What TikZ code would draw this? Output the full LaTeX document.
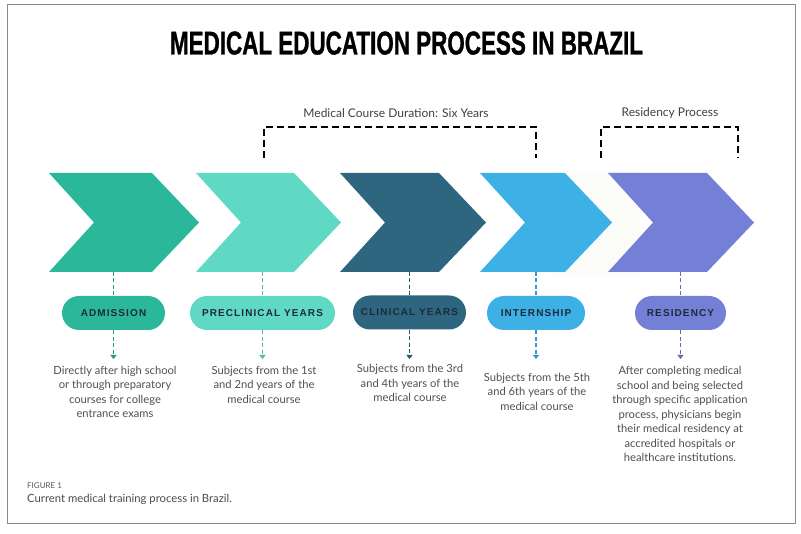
\documentclass[tikz,border=0pt]{standalone}
\usepackage{fontspec}
\setmainfont{Lato}
\newfontfamily\pillfont[LetterSpace=11]{Liberation Sans}
\newfontfamily\titlefont[FakeBold=1.2]{Liberation Sans}
\usetikzlibrary{arrows.meta}
\definecolor{cA}{HTML}{2BB89A}
\definecolor{cB}{HTML}{5FD8C4}
\definecolor{cC}{HTML}{2E6680}
\definecolor{cD}{HTML}{3DB0E6}
\definecolor{cE}{HTML}{7480D6}
\definecolor{pilltext}{HTML}{1C2A38}
\definecolor{desctext}{HTML}{505050}
\definecolor{framegray}{HTML}{8A8A8A}
\definecolor{offwhite}{HTML}{FBFBF8}
\tikzset{
  pill/.style={rounded corners=17pt, minimum height=34pt, inner sep=0pt, text=pilltext,
    font=\pillfont\bfseries\fontsize{10}{12}\selectfont},
  desc/.style={align=center, anchor=north, inner sep=0pt, text=desctext,
    font=\fontsize{11.2}{14.5}\selectfont},
  link/.style={line width=1.3pt, dash pattern=on 4pt off 2.5pt},
  linkarrow/.style={line width=1.3pt, dash pattern=on 4pt off 2.5pt, -{Triangle[width=6pt,length=4pt]}},
  bracket/.style={line width=2.2pt, dash pattern=on 7pt off 4pt, black},
  label/.style={text=black!75, font=\fontsize{12}{13}\selectfont, inner sep=0pt}
}
\newcommand{\chev}[3]{% #1 left x, #2 right top x, #3 colour
  \fill[#3] (#1,173) -- (#2,173) -- ({#2+47},222.5) -- (#2,272) -- (#1,272) -- ({#1+45},222.5) -- cycle;}
\begin{document}
\begin{tikzpicture}[x=1pt,y=-1pt]
\useasboundingbox (0,0) rectangle (801,534);
\fill[white] (0,0) rectangle (801,534);
\draw[framegray, line width=1pt] (7,5) rectangle (795,523);

% title
\node[inner sep=0pt, anchor=south] (title) at (406.5,55)
  {\resizebox{473pt}{23pt}{\titlefont\bfseries MEDICAL EDUCATION PROCESS IN BRAZIL}};

% bracket labels
\node[label] (l1) at (396,113) {Medical Course Duration: Six Years};
\node[label] (l2) at (670,113) {Residency Process};
\draw[bracket] (264,158) -- (264,127) -- (536,127) -- (536,158);
\draw[bracket] (601,158) -- (601,127) -- (738,127) -- (738,158);

% faint background
\fill[offwhite] (552,171) rectangle (640,275);

% chevrons
\chev{49}{152}{cA}
\chev{196}{294}{cB}
\chev{340}{439}{cC}
\chev{480}{565}{cD}
\chev{608}{707}{cE}

% chevron bottom coordinates
\coordinate (b1) at (113.5,272);
\coordinate (b2) at (262.5,272);
\coordinate (b3) at (409.5,272);
\coordinate (b4) at (536,272);
\coordinate (b5) at (680.5,272);

% pills
\node[pill, fill=cA, minimum width=103pt] (p1) at (113.5,313) {ADMISSION};
\node[pill, fill=cB, minimum width=145pt] (p2) at (262.5,313) {PRECLINICAL YEARS};
\node[pill, fill=cC, minimum width=113pt] (p3) at (409.5,312.5) {CLINICAL YEARS};
\node[pill, fill=cD, minimum width=98pt] (p4) at (536,313) {INTERNSHIP};
\node[pill, fill=cE, minimum width=91pt] (p5) at (680.5,313) {RESIDENCY};

% arrow end coordinates
\coordinate (a1) at (113.5,359);
\coordinate (a2) at (262.5,359);
\coordinate (a3) at (409.5,359);
\coordinate (a4) at (536,359);
\coordinate (a5) at (680.5,359);

\foreach \i/\c in {1/cA,2/cB,3/cC,4/cD,5/cE}{
  \draw[link, \c!85!black] (b\i) -- (p\i.north);
  \draw[linkarrow, \c!85!black] (p\i.south) -- (a\i);
}

% descriptions
\node[desc] (d1) at (115,366) {Directly after high school\\or through preparatory\\courses for college\\entrance exams};
\node[desc] (d2) at (264,366) {Subjects from the 1st\\and 2nd years of the\\medical course};
\node[desc] (d3) at (410,364.5) {Subjects from the 3rd\\and 4th years of the\\medical course};
\node[desc] (d4) at (537,373) {Subjects from the 5th\\and 6th years of the\\medical course};
\node[desc] (d5) at (680,366.5) {After completing medical\\school and being selected\\through specific application\\process, physicians begin\\their medical residency at\\accredited hospitals or\\healthcare institutions.};

% caption
\node[anchor=west, inner sep=0pt, text=black!65, font=\fontsize{8}{9}\selectfont] (fig) at (27,486) {FIGURE 1};
\node[anchor=west, inner sep=0pt, text=black!70, font=\fontsize{11.3}{13}\selectfont] (cap) at (27,499.5) {Current medical training process in Brazil.};
\end{tikzpicture}
\end{document}
